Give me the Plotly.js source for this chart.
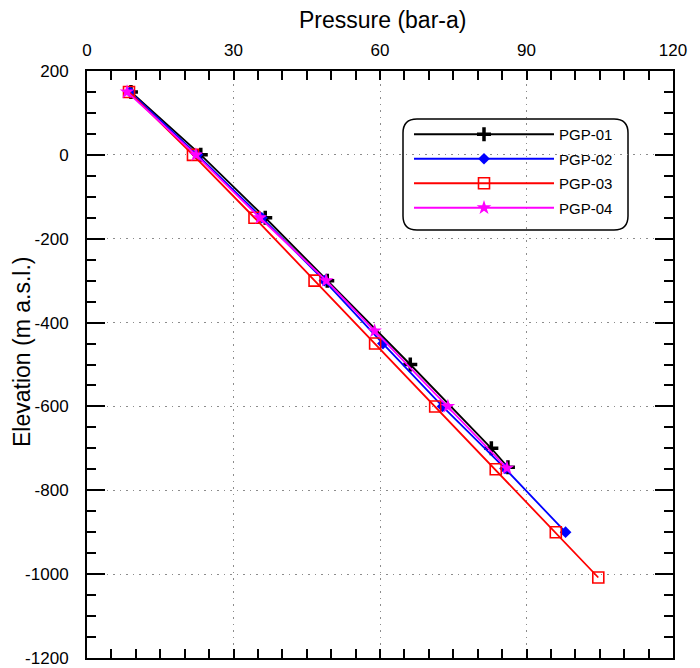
<!DOCTYPE html>
<html>
<head>
<meta charset="utf-8">
<script src="https://cdn.plot.ly/plotly-3.0.1.min.js"></script>
<style>html,body{margin:0;padding:0;background:#fff;}#chart{width:700px;height:668px;}</style>
</head>
<body>
<div id="chart"></div>
<script>
// Series names
const seriesNames = ["PGP-01", "PGP-02", "PGP-03", "PGP-04"];

// Pressure (bar-a) and elevation (m a.s.l.) values per series
const pgp01Pressure = [9.0, 23.3, 36.5, 49.2, 66.2, 82.8, 86.2];
const pgp01Elevation = [150, 0, -150, -300, -500, -700, -745];

const pgp02Pressure = [8.8, 22.6, 35.8, 48.6, 60.6, 72.8, 85.6, 98.0];
const pgp02Elevation = [150, 0, -150, -300, -450, -600, -748, -900];

const pgp03Pressure = [8.6, 21.7, 34.3, 46.6, 59.0, 71.3, 83.7, 96.0, 104.7];
const pgp03Elevation = [150, 0, -150, -300, -450, -600, -750, -900, -1008];

const pgp04Pressure = [8.2, 22.3, 35.4, 49.0, 58.9, 73.9, 86.0];
const pgp04Elevation = [150, 0, -150, -300, -420, -600, -747];

// Tick values
const xTicks = [0, 30, 60, 90, 120];
const yTicks = [200, 0, -200, -400, -600, -800, -1000, -1200];

const FONT = "Liberation Sans, Arial, sans-serif";

const traces = [
  {x: pgp01Pressure, y: pgp01Elevation, name: seriesNames[0], legendgroup: "a",
   mode: "lines+markers", line: {color: "#000000", width: 1.8},
   marker: {symbol: "cross-thin", size: 10, color: "#000000", line: {color: "#000000", width: 3.5}}},
  {x: pgp02Pressure, y: pgp02Elevation, name: seriesNames[1], legendgroup: "b",
   mode: "lines+markers", line: {color: "#0000ff", width: 1.8},
   marker: {symbol: "diamond", size: 9, color: "#0000ff"}},
  {x: pgp03Pressure, y: pgp03Elevation, name: seriesNames[2], legendgroup: "c",
   mode: "lines+markers", line: {color: "#ff0000", width: 1.8},
   marker: {symbol: "square-open", size: 11, color: "#ff0000", line: {color: "#ff0000", width: 1.6}}},
  {x: pgp04Pressure, y: pgp04Elevation, name: seriesNames[3], legendgroup: "d",
   mode: "lines+markers", line: {color: "#ff00ff", width: 1.8},
   marker: {symbol: "star", size: 11, color: "#ff00ff"}}
];

const T = 71, B = 10, L = 87, R = 27;
const PW = 700 - L - R, PH = 668 - T - B;

// rounded legend frame in paper coords (pixel box 403..628 x 119..230)
const lx0 = (403 - L) / PW, lx1 = (628 - L) / PW;
const ly1 = (668 - B - 119) / PH, ly0 = (668 - B - 230) / PH;
const rx = 14 / PW, ry = 14 / PH;
const framePath = `M ${lx0 + rx},${ly1} L ${lx1 - rx},${ly1} Q ${lx1},${ly1} ${lx1},${ly1 - ry} ` +
  `L ${lx1},${ly0 + ry} Q ${lx1},${ly0} ${lx1 - rx},${ly0} L ${lx0 + rx},${ly0} Q ${lx0},${ly0} ${lx0},${ly0 + ry} ` +
  `L ${lx0},${ly1 - ry} Q ${lx0},${ly1} ${lx0 + rx},${ly1} Z`;

const layout = {
  width: 700, height: 668,
  margin: {l: L, r: R, t: T, b: B, pad: 0},
  paper_bgcolor: "#ffffff", plot_bgcolor: "#ffffff",
  font: {family: FONT, size: 17, color: "#000000"},
  showlegend: true,
  legend: {x: (409 - L) / PW, xanchor: "left", y: (668 - B - 118) / PH, yanchor: "top",
    bgcolor: "rgba(0,0,0,0)", borderwidth: 0, itemwidth: 140,
    tracegroupgap: 2, font: {family: FONT, size: 15, color: "#000"}},
  xaxis: {
    side: "top", range: [0, 120], tickvals: xTicks, ticktext: xTicks.map(String),
    showline: true, linecolor: "#000", linewidth: 2, mirror: "ticks",
    ticks: "inside", ticklen: 9, tickwidth: 2, tickcolor: "#000",
    showgrid: true, gridcolor: "#8c8c8c", gridwidth: 1, griddash: "1.5px,5px",
    zeroline: false, ticklabelstandoff: 6, ticklabeloverflow: "allow",
    minor: {dtick: 5, ticks: "inside", ticklen: 9, tickwidth: 2, tickcolor: "#000", showgrid: false},
    tickfont: {family: FONT, size: 17}
  },
  yaxis: {
    range: [-1200, 200], tickvals: yTicks, ticktext: yTicks.map(String),
    showline: true, linecolor: "#000", linewidth: 2, mirror: "ticks",
    ticks: "inside", ticklen: 18, tickwidth: 2, tickcolor: "#000",
    showgrid: true, gridcolor: "#8c8c8c", gridwidth: 1, griddash: "1.5px,5px",
    zeroline: false, ticklabelstandoff: 13, ticklabeloverflow: "allow",
    minor: {dtick: 50, ticks: "inside", ticklen: 9, tickwidth: 2, tickcolor: "#000", showgrid: false},
    tickfont: {family: FONT, size: 17}
  },
  annotations: [
    {text: "Pressure (bar-a)", xref: "paper", yref: "paper",
     x: (382 - L) / PW, y: (668 - B - 20) / PH, xanchor: "center", yanchor: "middle",
     showarrow: false, font: {family: FONT, size: 23, color: "#000"}},
    {text: "Elevation (m a.s.l.)", xref: "paper", yref: "paper",
     x: (22 - L) / PW, y: (668 - B - 352) / PH, xanchor: "center", yanchor: "middle",
     textangle: -90, showarrow: false, font: {family: FONT, size: 23, color: "#000"}}
  ],
  shapes: [
    {type: "path", xref: "paper", yref: "paper", path: framePath,
     line: {color: "#000", width: 1.5}, fillcolor: "rgba(255,255,255,1)", layer: "below"}
  ]
};

Plotly.newPlot("chart", traces, layout, {staticPlot: true, displayModeBar: false});
</script>
</body>
</html>
